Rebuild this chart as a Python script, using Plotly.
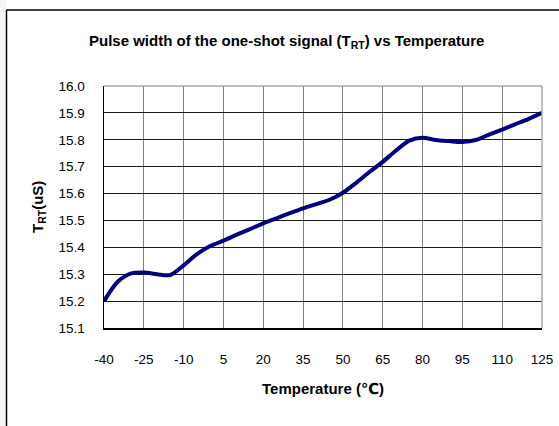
import plotly.graph_objects as go

temperature = [-40, -35, -30, -25, -20, -15, -10, -5, 0, 5, 10, 15, 20, 25, 30, 35, 40, 45,
               50, 55, 60, 65, 70, 75, 80, 85, 90, 95, 100, 105, 110, 115, 120, 125]
t_rt = [15.200, 15.270, 15.302, 15.306, 15.300, 15.297, 15.333, 15.375, 15.405, 15.425,
        15.447, 15.468, 15.489, 15.508, 15.527, 15.545, 15.561, 15.577, 15.603, 15.640,
        15.680, 15.718, 15.760, 15.797, 15.808, 15.799, 15.795, 15.792, 15.799, 15.819,
        15.838, 15.858, 15.878, 15.900]
x_ticks = [-40, -25, -10, 5, 20, 35, 50, 65, 80, 95, 110, 125]
y_ticks = [15.1, 15.2, 15.3, 15.4, 15.5, 15.6, 15.7, 15.8, 15.9, 16.0]

W, H = 559, 426
L, R, T, B = 104, 542, 86, 328

def px(x):
    return (x - L) / (R - L)

def py(y):
    return (B - y) / (B - T)

fig = go.Figure()
fig.add_trace(go.Scatter(
    x=temperature, y=t_rt, mode="lines",
    line=dict(color="#000080", width=4, shape="spline", smoothing=0.8),
    showlegend=False, hoverinfo="skip"))

font = "Liberation Sans, Arial, DejaVu Sans, sans-serif"

fig.update_layout(
    width=W, height=H,
    margin=dict(l=L, r=W - R, t=T, b=H - B, pad=0, autoexpand=False),
    paper_bgcolor="white", plot_bgcolor="white",
    font=dict(family=font, size=13.5, color="black"),
    showlegend=False,
    xaxis=dict(range=[-40, 125], tickvals=x_ticks, ticktext=[str(v) for v in x_ticks],
               showgrid=True, gridcolor="#808080", gridwidth=1,
               showline=True, linecolor="black", linewidth=1.5,
               zeroline=False, ticks="", ticklabelstandoff=18,
               ticklabeloverflow="allow", automargin=False,
               tickfont=dict(size=13.5, family=font)),
    yaxis=dict(range=[15.1, 16.0], tickvals=y_ticks, tickformat=".1f",
               showgrid=True, gridcolor="#1a1a1a", gridwidth=1,
               showline=True, linecolor="black", linewidth=1.5,
               zeroline=False, ticks="", ticklabelstandoff=15,
               ticklabeloverflow="allow", automargin=False,
               tickfont=dict(size=13.5, family=font)),
    annotations=[
        dict(text="<b>Pulse width of the one-shot signal (T<sub>RT</sub>) vs Temperature</b>",
             xref="paper", yref="paper", x=px(286), y=py(42),
             xanchor="center", yanchor="middle", showarrow=False,
             font=dict(size=15, family=font, color="black")),
        dict(text="<b>Temperature (℃)</b>",
             xref="paper", yref="paper", x=px(323), y=py(388),
             xanchor="center", yanchor="middle", showarrow=False,
             font=dict(size=15, family=font, color="black")),
        dict(text="<b>T<sub>RT</sub>(uS)</b>", textangle=-90,
             xref="paper", yref="paper", x=px(38), y=py(207),
             xanchor="center", yanchor="middle", showarrow=False,
             font=dict(size=15, family=font, color="black")),
    ],
    shapes=[
        dict(type="rect", xref="paper", yref="paper",
             x0=px(-2), x1=px(6), y0=py(H + 5), y1=py(-5),
             line=dict(width=0), fillcolor="#f4f4f4", layer="below"),
        dict(type="line", xref="paper", yref="paper",
             x0=px(6.5), x1=px(6.5), y0=py(10), y1=py(H + 10),
             line=dict(color="black", width=1.5)),
        dict(type="line", xref="paper", yref="paper",
             x0=px(6.5), x1=px(W + 10), y0=py(10), y1=py(10),
             line=dict(color="black", width=1.5)),
        dict(type="line", xref="paper", yref="paper",
             x0=0, x1=1, y0=1, y1=1,
             line=dict(color="#a8a8a8", width=1.5)),
        dict(type="line", xref="paper", yref="paper",
             x0=1, x1=1, y0=0, y1=1,
             line=dict(color="#a8a8a8", width=1.5)),
    ],
)

fig.write_html(
    "out.html",
    config={"displayModeBar": False, "staticPlot": True},
    post_script="document.body.style.margin='0';document.body.style.overflow='hidden';",
)
